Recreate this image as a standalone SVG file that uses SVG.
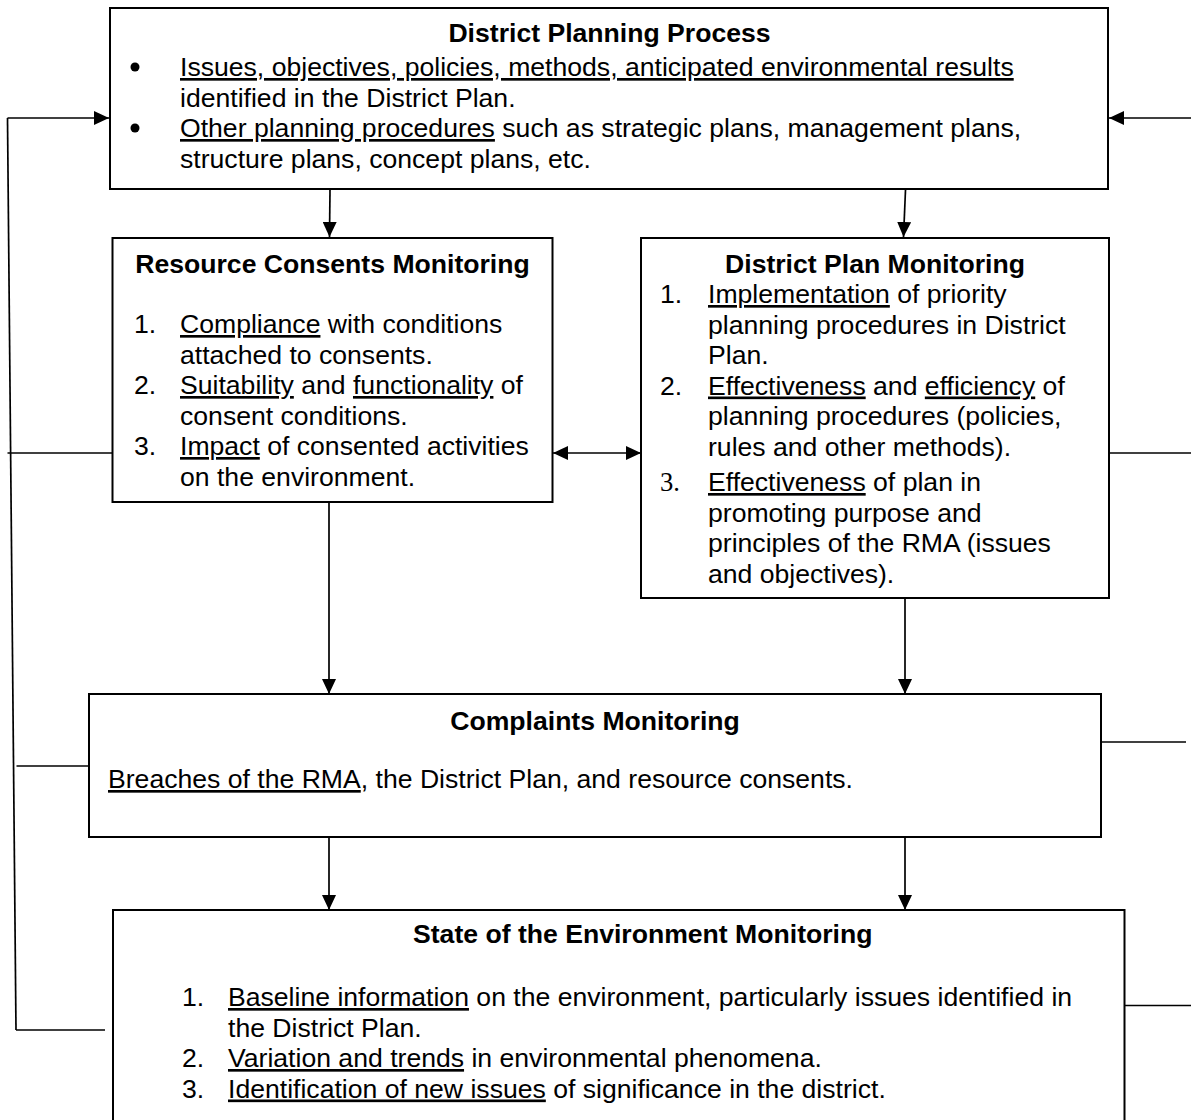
<svg xmlns="http://www.w3.org/2000/svg" width="1191" height="1120" viewBox="0 0 1191 1120">
<style>
text{font-family:"Liberation Sans",Arial,sans-serif;font-size:26.6px;fill:#000}
.t{font-weight:bold;text-anchor:middle}
.tl{font-weight:bold}
.u{text-decoration:underline;text-decoration-skip-ink:none;text-decoration-thickness:1.4px}
.sf{font-family:"Liberation Serif","Times New Roman",serif}
.box{fill:#fff;stroke:#000;stroke-width:2}
.ln{fill:none;stroke:#000;stroke-width:1.7}
.ar{fill:none;stroke:#000;stroke-width:1.7;marker-end:url(#ah)}
.ar2{fill:none;stroke:#000;stroke-width:1.7;marker-start:url(#ah);marker-end:url(#ah)}
</style>
<defs>
<marker id="ah" viewBox="0 0 15 14" refX="15" refY="7" markerWidth="15" markerHeight="14" markerUnits="userSpaceOnUse" orient="auto-start-reverse">
<path d="M0,0 L15,7 L0,14 Z" fill="#000"/>
</marker>
</defs>
<rect width="1191" height="1120" fill="#fff"/>

<g id="connectors">
<path class="ar" d="M7.5,118 L109,118"/>
<path class="ln" d="M7.5,118 L16,1030"/>
<path class="ln" d="M7.5,453 L112,453"/>
<path class="ln" d="M16.5,766 L89,766"/>
<path class="ln" d="M16,1030 L105,1030"/>
<path class="ar" d="M1191,118 L1109,118"/>
<path class="ln" d="M1109,453 L1191,453"/>
<path class="ln" d="M1097.5,742 L1186,742"/>
<path class="ln" d="M1121,1005.5 L1191,1005.5"/>
<path class="ar" d="M330,190 L329.5,237"/>
<path class="ar" d="M905.5,190 L903.5,237"/>
<path class="ar2" d="M553,453 L641,453"/>
<path class="ar" d="M329,502 L329,694"/>
<path class="ar" d="M905,598 L905,694"/>
<path class="ar" d="M329,837 L329,910"/>
<path class="ar" d="M905,837 L905,910"/>
</g>

<g id="district-planning-process">
<rect class="box" x="110" y="8" width="998" height="181"/>
<text class="t" x="609.5" y="42">District Planning Process</text>
<circle cx="135" cy="67" r="4.5" fill="#000"/>
<text x="180" y="76"><tspan class="u">Issues, objectives, policies, methods, anticipated environmental results</tspan></text>
<text x="180" y="106.5">identified in the District Plan.</text>
<circle cx="135" cy="128" r="4.5" fill="#000"/>
<text x="180" y="137"><tspan class="u">Other planning procedures</tspan> such as strategic plans, management plans,</text>
<text x="180" y="167.5">structure plans, concept plans, etc.</text>
</g>

<g id="resource-consents-monitoring">
<rect class="box" x="112.5" y="238" width="440" height="264"/>
<text class="t" x="332.5" y="273">Resource Consents Monitoring</text>
<text x="134" y="333">1.</text>
<text x="180" y="333"><tspan class="u">Compliance</tspan> with conditions</text>
<text x="180" y="363.5">attached to consents.</text>
<text x="134" y="394">2.</text>
<text x="180" y="394"><tspan class="u">Suitability</tspan> and <tspan class="u">functionality</tspan> of</text>
<text x="180" y="424.5">consent conditions.</text>
<text x="134" y="455">3.</text>
<text x="180" y="455"><tspan class="u">Impact</tspan> of consented activities</text>
<text x="180" y="485.5">on the environment.</text>
</g>

<g id="district-plan-monitoring">
<rect class="box" x="641" y="238" width="468" height="360"/>
<text class="t" x="875" y="273">District Plan Monitoring</text>
<text x="660" y="303">1.</text>
<text x="708" y="303"><tspan class="u">Implementation</tspan> of priority</text>
<text x="708" y="333.5">planning procedures in District</text>
<text x="708" y="364">Plan.</text>
<text x="660" y="394.5">2.</text>
<text x="708" y="394.5"><tspan class="u">Effectiveness</tspan> and <tspan class="u">efficiency</tspan> of</text>
<text x="708" y="425">planning procedures (policies,</text>
<text x="708" y="455.5">rules and other methods).</text>
<text class="sf" x="660" y="491">3.</text>
<text x="708" y="491"><tspan class="u">Effectiveness</tspan> of plan in</text>
<text x="708" y="521.5">promoting purpose and</text>
<text x="708" y="552">principles of the RMA (issues</text>
<text x="708" y="582.5">and objectives).</text>
</g>

<g id="complaints-monitoring">
<rect class="box" x="89" y="694" width="1012" height="143"/>
<text class="t" x="595" y="730">Complaints Monitoring</text>
<text x="108" y="788"><tspan class="u">Breaches of the RMA</tspan>, the District Plan, and resource consents.</text>
</g>

<g id="state-of-the-environment-monitoring">
<rect class="box" x="113" y="910" width="1011.5" height="230"/>
<text class="tl" x="413" y="943">State of the Environment Monitoring</text>
<text x="182" y="1006">1.</text>
<text x="228" y="1006"><tspan class="u">Baseline information</tspan> on the environment, particularly issues identified in</text>
<text x="228" y="1036.5">the District Plan.</text>
<text x="182" y="1067">2.</text>
<text x="228" y="1067"><tspan class="u">Variation and trends</tspan> in environmental phenomena.</text>
<text x="182" y="1097.5">3.</text>
<text x="228" y="1097.5"><tspan class="u">Identification of new issues</tspan> of significance in the district.</text>
</g>
</svg>
